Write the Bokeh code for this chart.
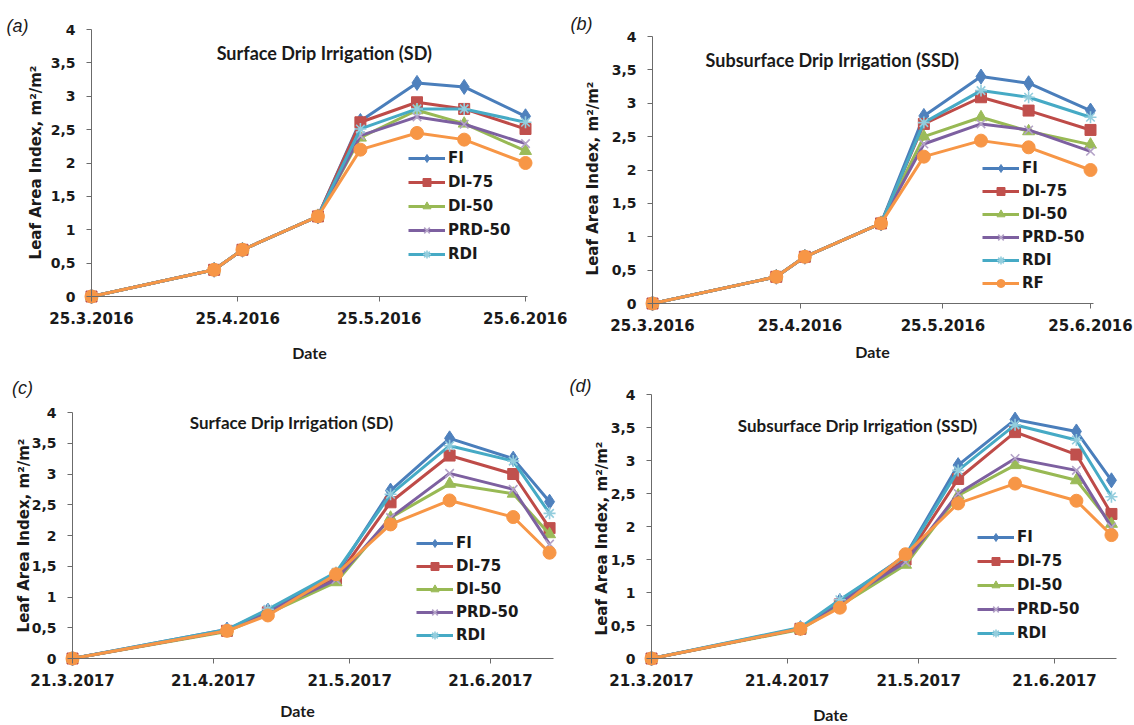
import datetime as dt
import math
from bokeh.plotting import figure
from bokeh.models import (FixedTicker, CustomJSTickFormatter, Label, Legend,
                          LegendItem, Range1d)
from bokeh.layouts import column, row
from bokeh.embed import file_html
from bokeh.resources import INLINE

# ---------------- data ----------------
SERIES = ["FI", "DI-75", "DI-50", "PRD-50", "RDI", "RF"]

A_DATES = ["2016-03-25", "2016-04-20", "2016-04-26", "2016-05-12",
           "2016-05-21", "2016-06-02", "2016-06-12", "2016-06-25"]
A_FI    = [0, 0.40, 0.70, 1.20, 2.63, 3.20, 3.14, 2.70]
A_DI75  = [0, 0.40, 0.70, 1.20, 2.61, 2.91, 2.81, 2.51]
A_DI50  = [0, 0.40, 0.70, 1.20, 2.38, 2.79, 2.59, 2.18]
A_PRD50 = [0, 0.40, 0.70, 1.20, 2.41, 2.69, 2.58, 2.29]
A_RDI   = [0, 0.40, 0.70, 1.20, 2.51, 2.81, 2.81, 2.61]
A_RF    = [0, 0.40, 0.70, 1.20, 2.20, 2.45, 2.35, 2.00]

B_DATES = A_DATES
B_FI    = [0, 0.40, 0.70, 1.20, 2.81, 3.40, 3.30, 2.89]
B_DI75  = [0, 0.40, 0.70, 1.20, 2.69, 3.09, 2.89, 2.60]
B_DI50  = [0, 0.40, 0.70, 1.20, 2.50, 2.79, 2.58, 2.38]
B_PRD50 = [0, 0.40, 0.70, 1.20, 2.39, 2.69, 2.60, 2.28]
B_RDI   = [0, 0.40, 0.70, 1.20, 2.71, 3.19, 3.09, 2.79]
B_RF    = [0, 0.40, 0.70, 1.20, 2.20, 2.44, 2.34, 2.00]

C_DATES = ["2017-03-21", "2017-04-24", "2017-05-03", "2017-05-18",
           "2017-05-30", "2017-06-12", "2017-06-26", "2017-07-04"]
C_FI    = [0, 0.47, 0.78, 1.36, 2.73, 3.58, 3.25, 2.55]
C_DI75  = [0, 0.45, 0.75, 1.30, 2.54, 3.30, 3.00, 2.12]
C_DI50  = [0, 0.44, 0.73, 1.24, 2.29, 2.84, 2.68, 2.02]
C_PRD50 = [0, 0.45, 0.77, 1.28, 2.29, 3.01, 2.75, 1.86]
C_RDI   = [0, 0.47, 0.80, 1.40, 2.67, 3.46, 3.21, 2.36]
C_RF    = [0, 0.45, 0.70, 1.37, 2.18, 2.57, 2.30, 1.72]

D_DATES = C_DATES
D_FI    = [0, 0.46, 0.87, 1.56, 2.93, 3.62, 3.44, 2.70]
D_DI75  = [0, 0.45, 0.82, 1.50, 2.72, 3.43, 3.09, 2.19]
D_DI50  = [0, 0.44, 0.80, 1.42, 2.47, 2.93, 2.70, 2.04]
D_PRD50 = [0, 0.45, 0.85, 1.46, 2.50, 3.03, 2.85, 1.99]
D_RDI   = [0, 0.47, 0.89, 1.55, 2.85, 3.54, 3.31, 2.45]
D_RF    = [0, 0.45, 0.77, 1.58, 2.35, 2.65, 2.39, 1.87]

TICKS_2016 = ["2016-03-25", "2016-04-25", "2016-05-25", "2016-06-25"]
TICKS_2017 = ["2017-03-21", "2017-04-21", "2017-05-21", "2017-06-21"]
Y_TICKS = [0, 0.5, 1, 1.5, 2, 2.5, 3, 3.5, 4]
Y_LABELS = ["0", "0,5", "1", "1,5", "2", "2,5", "3", "3,5", "4"]

TITLE_SD = "Surface Drip Irrigation  (SD)"
TITLE_SSD = "Subsurface Drip Irrigation  (SSD)"
Y_TITLE = "Leaf Area Index, m\u00b2/m\u00b2"
X_TITLE = "Date"

# ---------------- styles ----------------
COLORS = ["#4A7EBB", "#BE4B48", "#98B954", "#7D60A0", "#46AAC5", "#F79646"]
MARK_COLORS = ["#4F81BD", "#C0504D", "#9BBB59", "#B3A2C7", "#93CDDD", "#F79646"]
MARKERS = ["diamond", "square", "triangle", "x", "asterisk", "circle"]
MSIZES = [15, 11, 12, 12, 12, 13]

FONT = "DejaVu Sans"
TFONT = "Lato"


def to_dt(s):
    return dt.datetime.strptime(s, "%Y-%m-%d")


def ms(d):
    return (d - dt.datetime(1970, 1, 1)).total_seconds() * 1000.0


# pixel geometry of each panel (canvas coordinates)
PANELS = [
    dict(tag="a", dates=A_DATES, ys=[A_FI, A_DI75, A_DI50, A_PRD50, A_RDI, A_RF],
         ticks=TICKS_2016, legend_n=5,
         ox=0, oy=0, w=567, h=362, ax_x0=91, ax_x3=525, ax_end=527, y4=29, y0=296,
         title=TITLE_SD, title_xy=(326, 52), title_size="18px",
         tag_xy=(17, 25), ytitle_xy=(35, 162), xtitle_xy=(309, 352),
         leg_xy=(408, 148), leg_spacing=4),
    dict(tag="b", dates=B_DATES, ys=[B_FI, B_DI75, B_DI50, B_PRD50, B_RDI, B_RF],
         ticks=TICKS_2016, legend_n=6,
         ox=567, oy=0, w=567, h=362, ax_x0=652, ax_x3=1090, ax_end=1093, y4=36, y0=303,
         title=TITLE_SSD, title_xy=(834, 59), title_size="18px",
         tag_xy=(581, 23), ytitle_xy=(592, 178), xtitle_xy=(872, 351),
         leg_xy=(982, 158), leg_spacing=3),
    dict(tag="c", dates=C_DATES, ys=[C_FI, C_DI75, C_DI50, C_PRD50, C_RDI, C_RF],
         ticks=TICKS_2017, legend_n=5,
         ox=0, oy=362, w=567, h=363, ax_x0=72, ax_x3=490, ax_end=553, y4=412, y0=658,
         title=TITLE_SD, title_xy=(293, 422), title_size="17px",
         tag_xy=(22, 387), ytitle_xy=(23, 535), xtitle_xy=(297, 710),
         leg_xy=(416, 533), leg_spacing=3),
    dict(tag="d", dates=D_DATES, ys=[D_FI, D_DI75, D_DI50, D_PRD50, D_RDI, D_RF],
         ticks=TICKS_2017, legend_n=5,
         ox=567, oy=362, w=567, h=363, ax_x0=651, ax_x3=1054, ax_end=1116, y4=394, y0=658,
         title="Subsurface Drip Irrigation (SSD)", title_xy=(857, 425), title_size="17px",
         tag_xy=(580, 385), ytitle_xy=(601, 538), xtitle_xy=(830, 714),
         leg_xy=(977, 527), leg_spacing=4),
]

DATE_FMT = CustomJSTickFormatter(code="""
const d = new Date(tick);
return d.getUTCDate() + '.' + (d.getUTCMonth() + 1) + '.' + d.getUTCFullYear();
""")


def make_panel(s):
    t0 = to_dt(s["ticks"][0])
    t3 = to_dt(s["ticks"][3])
    span_days = (t3 - t0).total_seconds() / 86400.0
    pxd = (s["ax_x3"] - s["ax_x0"]) / span_days          # px per day
    pxu = (s["y0"] - s["y4"]) / 4.0                       # px per LAI unit
    x_start = t0 - dt.timedelta(days=(s["ax_x0"] - s["ox"]) / pxd)
    x_stop = t0 + dt.timedelta(days=(s["ox"] + s["w"] - s["ax_x0"]) / pxd)
    x_axis_end = t0 + dt.timedelta(days=(s["ax_end"] - s["ax_x0"]) / pxd)
    y_start = -(s["oy"] + s["h"] - s["y0"]) / pxu
    y_stop = 4.0 + (s["y4"] - s["oy"]) / pxu

    p = figure(width=s["w"], height=s["h"], x_axis_type="datetime",
               x_range=Range1d(x_start, x_stop), y_range=Range1d(y_start, y_stop),
               output_backend="svg", toolbar_location=None,
               min_border_left=0, min_border_right=0,
               min_border_top=0, min_border_bottom=0)
    p.title.visible = False
    p.outline_line_color = None
    p.xgrid.visible = False
    p.ygrid.visible = False
    p.background_fill_color = "white"
    p.border_fill_color = "white"

    xa = p.xaxis[0]
    xa.ticker = FixedTicker(ticks=[ms(to_dt(t)) for t in s["ticks"]])
    xa.formatter = DATE_FMT
    xa.fixed_location = 0
    xa.bounds = (ms(t0), ms(x_axis_end))
    ya = p.yaxis[0]
    ya.ticker = FixedTicker(ticks=Y_TICKS)
    ya.major_label_overrides = {t: l for t, l in zip(Y_TICKS, Y_LABELS)}
    ya.fixed_location = ms(t0)
    ya.bounds = (0, 4)
    for ax in (xa, ya):
        ax.axis_line_color = "#6b6b6b"
        ax.axis_line_width = 1
        ax.major_tick_line_color = "#6b6b6b"
        ax.major_tick_in = 0
        ax.major_tick_out = 5
        ax.minor_tick_line_color = None
        ax.major_label_text_font = FONT
        ax.major_label_text_font_style = "bold"
        ax.major_label_text_color = "#1a1a1a"
    xa.major_label_text_font_size = "15px"
    xa.major_label_standoff = 10
    ya.major_label_text_font_size = "14px"
    ya.major_label_standoff = 11

    dates = [to_dt(d) for d in s["dates"]]
    items = []
    for i, name in enumerate(SERIES):
        ln = p.line(dates, s["ys"][i], line_color=COLORS[i], line_width=3)
        if MARKERS[i] in ("x", "asterisk"):
            mk = p.scatter(dates, s["ys"][i], marker=MARKERS[i], size=MSIZES[i],
                           line_color=MARK_COLORS[i], line_width=1.6)
        else:
            mk = p.scatter(dates, s["ys"][i], marker=MARKERS[i], size=MSIZES[i],
                           fill_color=MARK_COLORS[i], line_color=MARK_COLORS[i],
                           line_width=1)
        if i < s["legend_n"]:
            items.append(LegendItem(label=name, renderers=[ln, mk]))

    fl = s["ox"]
    fb = s["oy"] + s["h"]

    def sx(cx):
        return cx - fl

    def sy(cy):
        return fb - cy

    n = s["legend_n"]
    gh = 20
    leg_h = n * gh + (n - 1) * s["leg_spacing"]
    lx, ly_top = s["leg_xy"]
    leg = Legend(items=items, location=(sx(lx), sy(ly_top + leg_h)),
                 glyph_width=37, glyph_height=gh, label_height=gh,
                 spacing=s["leg_spacing"], padding=0, margin=0,
                 label_standoff=3, border_line_alpha=0, background_fill_alpha=0,
                 label_text_font=FONT, label_text_font_style="bold",
                 label_text_font_size="15px", label_text_color="#1a1a1a")
    p.add_layout(leg)

    tx, ty = s["title_xy"]
    p.add_layout(Label(x=sx(tx), y=sy(ty), x_units="screen", y_units="screen",
                       text=s["title"], text_align="center", text_baseline="middle",
                       text_font=TFONT, text_font_style="bold",
                       text_font_size=s["title_size"], text_color="#1a1a1a"))
    gx, gy = s["tag_xy"]
    p.add_layout(Label(x=sx(gx), y=sy(gy), x_units="screen", y_units="screen",
                       text="(" + s["tag"] + ")", text_align="center",
                       text_baseline="middle", text_font="Liberation Sans",
                       text_font_style="italic", text_font_size="18px",
                       text_color="#1a1a1a"))
    vx, vy = s["ytitle_xy"]
    p.add_layout(Label(x=sx(vx), y=sy(vy), x_units="screen", y_units="screen",
                       text=Y_TITLE, angle=math.pi / 2, text_align="center",
                       text_baseline="middle", text_font=FONT,
                       text_font_style="bold", text_font_size="15px",
                       text_color="#1a1a1a"))
    hx, hy = s["xtitle_xy"]
    p.add_layout(Label(x=sx(hx), y=sy(hy), x_units="screen", y_units="screen",
                       text=X_TITLE, text_align="center", text_baseline="middle",
                       text_font=TFONT, text_font_style="bold",
                       text_font_size="16px", text_color="#1a1a1a"))
    return p


figs = [make_panel(s) for s in PANELS]
layout = column(row(figs[0], figs[1], spacing=0), row(figs[2], figs[3], spacing=0),
                spacing=0)
open("out.html", "w").write(file_html(layout, INLINE))
